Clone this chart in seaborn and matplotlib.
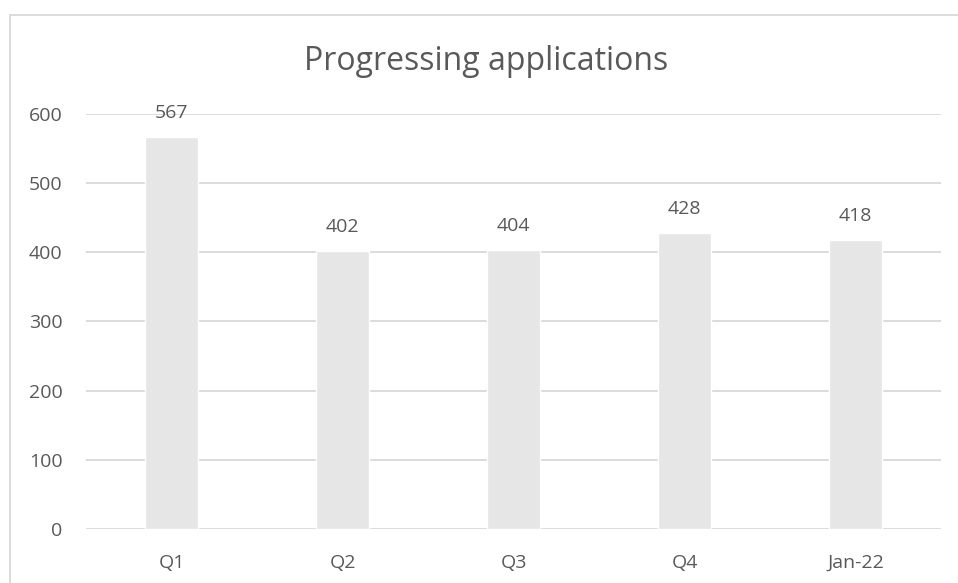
import pandas as pd
import seaborn as sns
import matplotlib.pyplot as plt
from matplotlib.patches import Rectangle

# data
periods = ['Q1', 'Q2', 'Q3', 'Q4', 'Jan-22']
applications = [567, 402, 404, 428, 418]
yticks = [0, 100, 200, 300, 400, 500, 600]

df = pd.DataFrame({'period': periods, 'applications': applications})

sns.set_style('white')
plt.rcParams['font.family'] = ['Open Sans', 'DejaVu Sans']

text_col = '#595959'
grid_col = '#d9d9d9'

fig = plt.figure(figsize=(9.58, 5.83), dpi=100)
ax = fig.add_axes([0.0898, 0.0926, 0.8925, 0.7119])

sns.barplot(data=df, x='period', y='applications', color='#e6e6e6',
            saturation=1, width=0.31, ax=ax, zorder=3)

ax.set_ylim(0, 600)
ax.set_yticks(yticks)
ax.set_xlim(-0.5, len(periods) - 0.5)
ax.yaxis.grid(True, color=grid_col, linewidth=1.3, zorder=0)
ax.set_axisbelow(True)
for s in ax.spines.values():
    s.set_visible(False)
ax.tick_params(axis='both', length=0, labelsize=14, labelcolor=text_col)
ax.tick_params(axis='y', pad=17)
ax.tick_params(axis='x', pad=18)
ax.set_xlabel('')
ax.set_ylabel('')

for c in ax.containers:
    ax.bar_label(c, fmt='%d', padding=10.5, fontsize=14, color=text_col)

fig.text(0.507, 0.895, 'Progressing applications', ha='center', va='center',
         fontsize=23, color=text_col)

# chart border (clipped by the image on right and bottom)
fig.patches.append(Rectangle((9.5 / 958, -0.05), 1.2, 1 - 15.5 / 583 + 0.05,
                             transform=fig.transFigure, fill=False,
                             edgecolor=grid_col, linewidth=1.3))

fig.savefig('out.png', dpi=100)
